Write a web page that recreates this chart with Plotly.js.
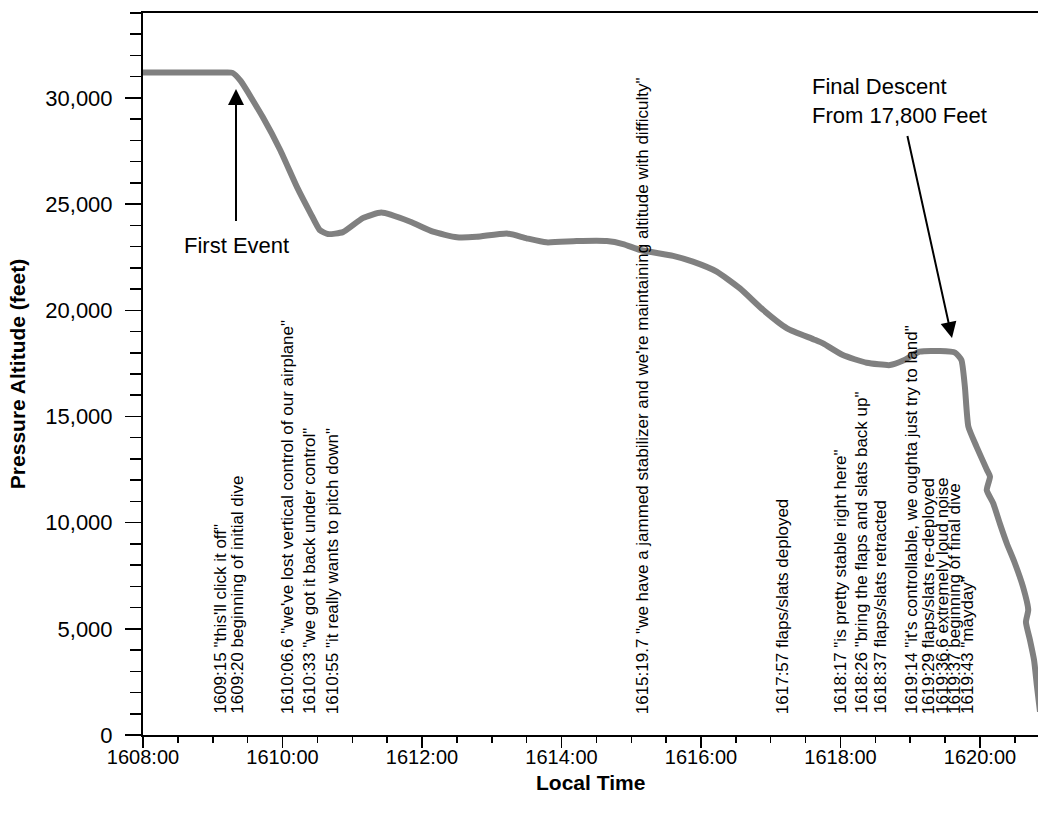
<!DOCTYPE html>
<html>
<head>
<meta charset="utf-8">
<script src="https://cdn.plot.ly/plotly-3.0.1.min.js"></script>
<style>html,body{margin:0;padding:0;background:#fff;}#chart{width:1038px;height:813px;}</style>
</head>
<body>
<div id="chart"></div>
<script>
// ---- Data ----
var dayPrefix = '2000-01-01 ';
var timeStamps = ['16:08:00','16:08:30','16:09:00','16:09:12','16:09:17','16:09:24','16:09:43','16:09:58','16:10:12.5','16:10:24','16:10:32','16:10:39','16:10:52','16:11:09','16:11:25','16:11:50','16:12:09.5','16:12:30','16:12:47','16:13:13','16:13:30','16:13:47','16:14:13','16:14:39','16:14:53','16:15:08','16:15:36','16:15:53','16:16:13.5','16:16:33.5','16:16:53.6','16:17:14','16:17:37','16:17:45','16:18:02','16:18:22.5','16:18:42.6','16:18:54','16:19:08','16:19:25.6','16:19:38.5','16:19:44','16:19:47','16:19:50','16:19:57','16:20:06','16:20:08.6','16:20:05.8','16:20:11.4','16:20:17','16:20:23','16:20:30','16:20:37','16:20:41.5','16:20:39.5','16:20:43','16:20:46.5','16:20:49','16:20:51.6'];
var altitudeFt = [31200,31200,31200,31200,31180,30800,29100,27550,25800,24580,23780,23590,23680,24340,24600,24170,23700,23440,23460,23620,23390,23200,23260,23260,23120,22840,22560,22290,21820,21030,20010,19150,18630,18440,17890,17530,17420,17630,18050,18080,18010,17660,16400,14520,13580,12480,12160,11530,10910,9970,9030,8090,6980,5890,5320,4470,3530,2300,1100];

var noteLabels = [
  '1609:15 "this\'ll click it off"',
  '1609:20 beginning of initial dive',
  '1610:06.6 "we\'ve lost vertical control of our airplane"',
  '1610:33 "we got it back under control"',
  '1610:55 "it really wants to pitch down"',
  '1615:19.7 "we have a jammed stabilizer and we\'re maintaining altitude with difficulty"',
  '1617:57 flaps/slats deployed',
  '1618:17 "is pretty stable right here"',
  '1618:26 "bring the flaps and slats back up"',
  '1618:37 flaps/slats retracted',
  '1619:14 "it\'s controllable, we oughta just try to land"',
  '1619:29 flaps/slats re-deployed',
  '1619:36.6 extremely loud noise',
  '1619:37 beginning of final dive',
  '1619:43 "mayday"'
];
// where each vertical note is drawn along the time axis
var noteAt = ['16:09:07','16:09:21.5','16:10:05','16:10:23.7','16:10:43.7','16:15:10','16:17:10.8','16:18:00.4','16:18:18.2','16:18:34.6','16:19:01.1','16:19:15.7','16:19:28.2','16:19:38.1','16:19:49.7'];

var xTickStart = '16:08:00';
var xRangeEnd = '16:20:49.9';
var yRange = [0, 34000];

// ---- Build ----
var font = 'Liberation Sans, Arial, Helvetica, sans-serif';
var xs = timeStamps.map(function(t){return dayPrefix + t;});

var trace = {
  type: 'scatter', mode: 'lines', x: xs, y: altitudeFt,
  line: {color: '#808080', width: 6, shape: 'spline', smoothing: 0.5},
  hoverinfo: 'skip'
};

var annotations = noteLabels.map(function(txt, i){
  return {
    x: dayPrefix + noteAt[i], y: 900, xref: 'x', yref: 'y',
    text: txt, textangle: -90, showarrow: false,
    xanchor: 'center', yanchor: 'bottom',
    font: {family: font, size: 17, color: '#000'}
  };
});

// arrows
annotations.push({
  x: dayPrefix + '16:09:20', y: 30420, xref: 'x', yref: 'y',
  text: ' ', font: {size: 1}, showarrow: true, ax: 0, ay: 134,
  arrowhead: 2, arrowsize: 1.6, arrowwidth: 2, arrowcolor: '#000'
});
annotations.push({
  x: dayPrefix + '16:19:35.9', y: 18695, xref: 'x', yref: 'y',
  text: ' ', font: {size: 1}, showarrow: true, ax: -45, ay: -204,
  arrowhead: 2, arrowsize: 1.6, arrowwidth: 2, arrowcolor: '#000'
});
annotations.push({
  x: dayPrefix + '16:09:20', y: 23074, xref: 'x', yref: 'y',
  text: 'First Event', showarrow: false, xanchor: 'center', yanchor: 'middle',
  font: {family: font, size: 22, color: '#000'}
});
annotations.push({
  x: dayPrefix + '16:17:33.8', y: 29855, xref: 'x', yref: 'y',
  text: 'Final Descent<br>From 17,800 Feet', showarrow: false, align: 'left',
  xanchor: 'left', yanchor: 'middle',
  font: {family: font, size: 22, color: '#000'}
});
// x-axis title
annotations.push({
  x: 0.5, y: -0.066, xref: 'paper', yref: 'paper',
  text: '<b>Local Time</b>', showarrow: false, xanchor: 'center', yanchor: 'middle',
  font: {family: font, size: 21, color: '#000'}
});

var layout = {
  width: 1038, height: 813,
  margin: {l: 143, r: 0, t: 13, b: 78},
  paper_bgcolor: '#fff', plot_bgcolor: '#fff',
  showlegend: false,
  xaxis: {
    type: 'date',
    range: [dayPrefix + xTickStart, dayPrefix + xRangeEnd],
    tick0: dayPrefix + xTickStart, dtick: 120000,
    tickformat: '%H%M:%S',
    ticks: 'outside', ticklen: 11, tickwidth: 1.5, tickcolor: '#000',
    minor: {dtick: 30000, ticks: 'outside', ticklen: 6, tickwidth: 1.5, tickcolor: '#000', showgrid: false},
    showline: true, linecolor: '#000', linewidth: 2, mirror: true,
    showgrid: false, zeroline: false,
    ticklabelstandoff: -8,
    tickfont: {family: font, size: 20, color: '#000'}
  },
  yaxis: {
    range: yRange, dtick: 5000, tickformat: ',d',
    ticks: 'outside', ticklen: 16, tickwidth: 1.5, tickcolor: '#000',
    minor: {dtick: 1000, ticks: 'outside', ticklen: 11, tickwidth: 1.5, tickcolor: '#000', showgrid: false},
    showline: true, linecolor: '#000', linewidth: 2,
    showgrid: false, zeroline: false,
    ticklabelstandoff: 8,
    tickfont: {family: font, size: 22, color: '#000'},
    title: {text: '<b>Pressure Altitude (feet)</b>', font: {family: font, size: 21, color: '#000'}, standoff: 14}
  },
  annotations: annotations
};

Plotly.newPlot('chart', [trace], layout, {displayModeBar: false, staticPlot: true});
</script>
</body>
</html>
